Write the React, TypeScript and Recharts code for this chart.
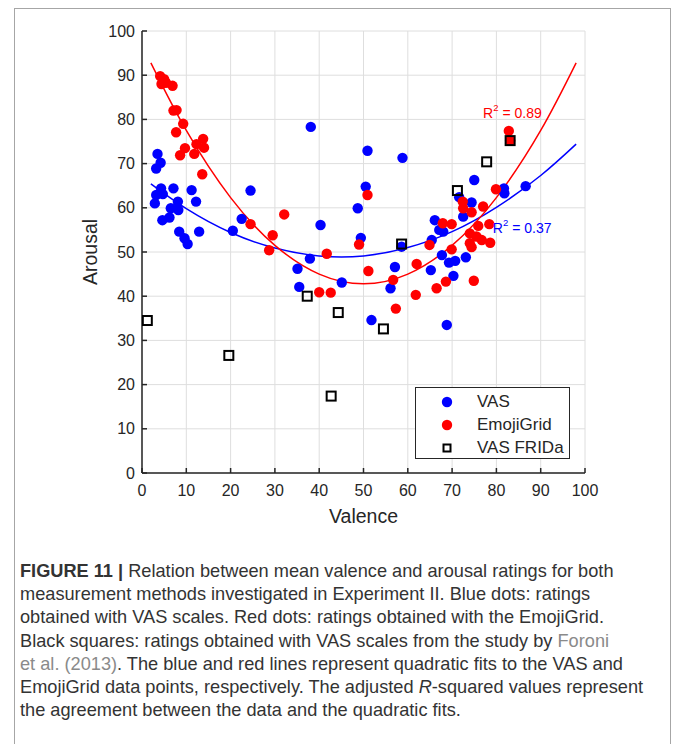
import React from "react";
import {
  ComposedChart,
  Scatter,
  Line,
  XAxis,
  YAxis,
  CartesianGrid,
  ReferenceDot,
} from "recharts";

const valenceTicks = [0, 10, 20, 30, 40, 50, 60, 70, 80, 90, 100];
const arousalTicks = [0, 10, 20, 30, 40, 50, 60, 70, 80, 90, 100];

// [valence, arousal]
const vasPoints: [number, number][] = [
  [3.5, 72.2], [4.2, 70.2], [3.2, 68.9], [3.2, 62.9], [4.3, 64.4], [4.7, 63.1],
  [2.9, 61.0], [4.6, 57.2], [6.2, 57.8], [7.1, 64.4], [6.5, 59.9], [8.1, 61.4],
  [8.2, 59.5], [8.4, 54.6], [9.6, 53.1], [10.3, 51.8], [11.2, 64.0], [12.2, 61.4],
  [12.9, 54.6], [20.5, 54.8], [22.5, 57.5], [24.5, 63.9], [38.1, 78.3], [40.3, 56.1],
  [37.9, 48.5], [35.1, 46.2], [35.5, 42.1], [45.1, 43.1], [48.7, 59.9], [50.5, 64.8],
  [50.9, 72.9], [58.8, 71.3], [49.4, 53.2], [58.6, 51.2], [57.1, 46.6], [56.1, 41.8],
  [51.8, 34.6], [65.2, 45.9], [65.4, 52.7], [66.1, 57.2], [67.1, 55.0], [68.0, 54.6],
  [67.7, 49.3], [69.3, 47.6], [70.7, 48.0], [70.3, 44.6], [73.1, 48.8], [68.8, 33.5],
  [71.6, 62.4], [74.4, 61.2], [72.5, 58.0], [75.0, 66.3], [81.7, 64.4], [81.8, 63.3],
  [86.6, 64.9],
];

const emojiPoints: [number, number][] = [
  [4.1, 89.8], [5.0, 89.1], [4.4, 88.0], [5.4, 88.3], [6.9, 87.6], [7.1, 82.0],
  [7.8, 82.1], [7.7, 77.1], [9.3, 79.0], [8.6, 71.9], [9.7, 73.5], [11.8, 72.2],
  [12.3, 74.4], [13.8, 75.6], [14.0, 73.6], [13.6, 67.6], [24.5, 56.3], [29.5, 53.8],
  [28.7, 50.4], [32.1, 58.5], [41.7, 49.6], [40.0, 40.9], [42.6, 40.8], [49.0, 51.7],
  [50.9, 62.9], [51.1, 45.7], [56.7, 43.7], [57.3, 37.2], [62.0, 47.3], [61.8, 40.3],
  [64.9, 51.6], [66.5, 41.8], [68.6, 43.3], [67.9, 56.5], [69.9, 56.3], [69.9, 50.6],
  [72.4, 61.4], [72.5, 59.9], [74.4, 59.0], [77.0, 60.3], [79.9, 64.2], [74.0, 54.2],
  [75.9, 55.9], [78.4, 56.3], [75.5, 53.5], [76.7, 52.7], [78.6, 52.1], [74.0, 52.0],
  [74.4, 51.1], [74.9, 43.5], [82.8, 77.4], [83.1, 75.2],
];

const fridaPoints: [number, number][] = [
  [1.2, 34.5], [19.6, 26.6], [37.3, 40.0], [44.3, 36.3], [42.7, 17.4],
  [54.5, 32.6], [58.6, 51.8], [71.2, 63.9], [77.8, 70.4], [83.1, 75.2],
];

// quadratic fit curves
const vasFit: [number, number][] = [
  [2, 65.4], [10, 59.8], [20, 54.4], [30, 50.9], [40, 49.1], [50, 49.1],
  [60, 51.0], [70, 54.6], [80, 60.1], [90, 67.3], [98, 74.4],
];
const emojiFit: [number, number][] = [
  [2, 92.8], [10, 77.5], [20, 62.3], [30, 51.5], [40, 45.0], [50, 42.8],
  [60, 45.0], [70, 51.5], [80, 62.3], [90, 77.5], [98, 92.8],
];

const toXY = (pts: [number, number][]) => pts.map(([x, y]) => ({ x, y }));

const BLUE = "#0000ff";
const RED = "#ff0000";
const AXIS = "#262626";
const FONT = "'Liberation Sans', Arial, sans-serif";

const Dot = (color: string) => (props: any) => (
  <circle cx={props.cx} cy={props.cy} r={5.2} fill={color} />
);

const Square = (props: any) => (
  <rect
    x={props.cx - 4.5}
    y={props.cy - 4.5}
    width={9}
    height={9}
    fill="none"
    stroke="#000"
    strokeWidth={2}
  />
);

const R2Label = (text: string, color: string) => (props: any) => {
  const vb = props.viewBox || {};
  return (
    <text x={vb.x} y={vb.y} fill={color} fontSize={14} fontFamily={FONT} dominantBaseline="central">
      R<tspan dy={-6} fontSize={9.5}>2</tspan>
      <tspan dy={6}>{" = " + text}</tspan>
    </text>
  );
};

const tickStyle = { fill: AXIS, fontSize: 16, fontFamily: FONT };
const lineStyle = { stroke: AXIS, strokeWidth: 1.5 };

function Legend() {
  const rows = [
    { label: "VAS", kind: "dot", color: BLUE },
    { label: "EmojiGrid", kind: "dot", color: RED },
    { label: "VAS FRIDa", kind: "square", color: "#000" },
  ];
  return (
    <div
      style={{
        position: "absolute",
        left: 415,
        top: 387,
        width: 155,
        height: 72,
        boxSizing: "border-box",
        border: `1.5px solid ${AXIS}`,
        background: "#fff",
        fontFamily: FONT,
        fontSize: 17,
        color: AXIS,
      }}
    >
      {rows.map((r, i) => (
        <div
          key={r.label}
          style={{ position: "absolute", left: 0, top: 3 + i * 23, height: 22, width: "100%" }}
        >
          <svg width={20} height={22} style={{ position: "absolute", left: 21, top: 0 }}>
            {r.kind === "dot" ? (
              <circle cx={10} cy={11} r={5.2} fill={r.color} />
            ) : (
              <rect x={6.5} y={7.5} width={7} height={7} fill="none" stroke="#000" strokeWidth={2} />
            )}
          </svg>
          <span style={{ position: "absolute", left: 61, top: 0, lineHeight: "22px" }}>{r.label}</span>
        </div>
      ))}
    </div>
  );
}

const captionLines: React.ReactNode[] = [
  <>
    <b>FIGURE 11 |</b> Relation between mean valence and arousal ratings for both
  </>,
  <>measurement methods investigated in Experiment II. Blue dots: ratings</>,
  <>obtained with VAS scales. Red dots: ratings obtained with the EmojiGrid.</>,
  <>
    Black squares: ratings obtained with VAS scales from the study by{" "}
    <span style={{ color: "#8a8a8a" }}>Foroni</span>
  </>,
  <>
    <span style={{ color: "#8a8a8a" }}>et al. (2013)</span>. The blue and red lines represent quadratic fits to the VAS and
  </>,
  <>
    EmojiGrid data points, respectively. The adjusted <i>R</i>-squared values represent
  </>,
  <>the agreement between the data and the quadratic fits.</>,
];

export default function App() {
  return (
    <div style={{ position: "absolute", left: 0, top: 0, width: 674, height: 744, background: "#fff", overflow: "hidden" }}>
      <div
        style={{
          position: "absolute",
          left: 14,
          top: 8,
          width: 657,
          height: 740,
          boxSizing: "border-box",
          border: "1px solid #a6a6a6",
        }}
      />
      <div style={{ position: "absolute", left: 0, top: 0 }}>
        <ComposedChart
          width={674}
          height={540}
          margin={{ top: 31, right: 89, bottom: 17, left: 82 }}
        >
          <CartesianGrid stroke="#dedede" strokeWidth={1} />
          <XAxis
            type="number"
            dataKey="x"
            domain={[0, 100]}
            ticks={valenceTicks}
            interval={0}
            allowDataOverflow
            height={50}
            tickSize={-5}
            tickMargin={17}
            tick={tickStyle}
            axisLine={lineStyle}
            tickLine={lineStyle}
            label={{ value: "Valence", position: "insideBottom", offset: 0, fontSize: 19.5, fill: AXIS, fontFamily: FONT }}
          />
          <XAxis
            xAxisId="top"
            orientation="top"
            type="number"
            dataKey="x"
            domain={[0, 100]}
            ticks={valenceTicks}
            interval={0}
            height={0}
            tickSize={-5}
            tickFormatter={() => ""}
            axisLine={lineStyle}
            tickLine={lineStyle}
          />
          <YAxis
            type="number"
            dataKey="y"
            domain={[0, 100]}
            ticks={arousalTicks}
            interval={0}
            allowDataOverflow
            width={60}
            tickSize={-5}
            tickMargin={12}
            tick={tickStyle}
            axisLine={lineStyle}
            tickLine={lineStyle}
            label={{
              value: "Arousal",
              angle: -90,
              position: "insideLeft",
              offset: 8,
              fontSize: 19.5,
              fill: AXIS,
              fontFamily: FONT,
              style: { textAnchor: "middle" },
            }}
          />
          <YAxis
            yAxisId="right"
            orientation="right"
            type="number"
            dataKey="y"
            domain={[0, 100]}
            ticks={arousalTicks}
            interval={0}
            width={0}
            tickSize={-5}
            tickFormatter={() => ""}
            axisLine={lineStyle}
            tickLine={lineStyle}
          />
          <Scatter name="VAS" data={toXY(vasPoints)} shape={Dot(BLUE)} isAnimationActive={false} />
          <Scatter name="EmojiGrid" data={toXY(emojiPoints)} shape={Dot(RED)} isAnimationActive={false} />
          <Scatter name="VAS FRIDa" data={toXY(fridaPoints)} shape={Square} isAnimationActive={false} />
          <Line
            data={toXY(vasFit)}
            dataKey="y"
            type="natural"
            stroke={BLUE}
            strokeWidth={1.5}
            dot={false}
            activeDot={false}
            legendType="none"
            isAnimationActive={false}
          />
          <Line
            data={toXY(emojiFit)}
            dataKey="y"
            type="natural"
            stroke={RED}
            strokeWidth={1.5}
            dot={false}
            activeDot={false}
            legendType="none"
            isAnimationActive={false}
          />
          <ReferenceDot x={77} y={81.4} r={0} fill="none" stroke="none" label={{ content: R2Label("0.89", RED) }} />
          <ReferenceDot x={79.2} y={55.4} r={0} fill="none" stroke="none" label={{ content: R2Label("0.37", BLUE) }} />
        </ComposedChart>
      </div>
      <Legend />
      <div
        style={{
          position: "absolute",
          left: 20,
          top: 560,
          fontFamily: FONT,
          fontSize: 18.2,
          lineHeight: "23.2px",
          color: "#333",
          whiteSpace: "nowrap",
        }}
      >
        {captionLines.map((l, i) => (
          <div key={i}>{l}</div>
        ))}
      </div>
    </div>
  );
}
